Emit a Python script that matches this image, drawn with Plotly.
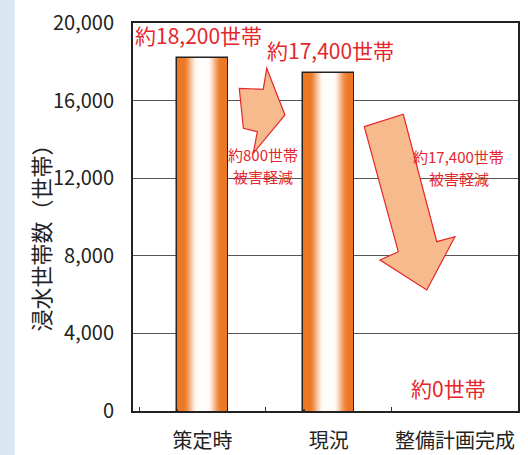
import plotly.graph_objects as go
import numpy as np

# Households affected by inundation at each stage
categories = ["策定時", "現況", "整備計画完成"]
households = [18200, 17400, 0]
value_labels = ["約18,200世帯", "約17,400世帯", "約0世帯"]
label_shift_x = [-4, 2, -6]

y_ticks = [0, 4000, 8000, 12000, 16000, 20000]

# Reduction notes: (first line, second line)
reduction_notes = [("約800世帯", "被害軽減"), ("約17,400世帯", "被害軽減")]

RED = "#E5262B"
ORANGE = np.array([236, 120, 38])
WHITE = np.array([255, 253, 250])
ARROW_FILL = "#F6BA8C"
FONT = "Noto Sans CJK JP"

fig = go.Figure()

# Cylinder-like bars: stacked overlay bars of shrinking width fading to white
n_layers = 24
full_w = 0.4
outline_w = [1.5 if v > 0 else 0 for v in households]
for k in range(n_layers):
    d = k / n_layers  # 0 at edge, ->1 at centre
    t = np.clip((d - 0.2) / 0.6, 0, 1)
    t = t * t * (3 - 2 * t)
    c = ORANGE * (1 - t) + WHITE * t
    color = "rgb(%d,%d,%d)" % tuple(c.round().astype(int))
    fig.add_trace(go.Bar(
        x=categories, y=households,
        width=[full_w * (1 - d)] * len(categories),
        marker=dict(color=color,
                    line=dict(color="#222" if k == 0 else color,
                              width=outline_w if k == 0 else 0)),
        hoverinfo="skip", showlegend=False,
    ))

# Value labels above each bar
for i, (cat, v, lab) in enumerate(zip(categories, households, value_labels)):
    fig.add_annotation(x=cat, y=v, text=lab, showarrow=False,
                       yanchor="bottom", yshift=6, xshift=label_shift_x[i],
                       font=dict(family=FONT, size=21, color=RED))

# Block arrows (x in category-index units, y in data units)
small_arrow = [(0.542, 17665), (0.684, 15258), (0.437, 13283), (0.469, 14397),
               (0.360, 14572), (0.328, 16634), (0.515, 16582)]
big_arrow = [(1.302, 14655), (1.606, 15294), (1.867, 8727), (2.009, 8985),
             (1.789, 6237), (1.425, 7783), (1.567, 8211)]


def to_path(pts):
    segs = []
    for j, (xi, yv) in enumerate(pts):
        xp = (xi + 0.5) / len(categories)
        segs.append(("M" if j == 0 else "L") + f"{xp:.4f},{yv:.1f}")
    return " ".join(segs) + " Z"


for pts in (small_arrow, big_arrow):
    fig.add_shape(type="path", path=to_path(pts), xref="paper", yref="y",
                  fillcolor=ARROW_FILL, line=dict(color=RED, width=1.2),
                  layer="above")

# Two-line notes next to the arrows
note_pos = [(0.5, 12650, -3), (1.5, 12550, 67)]
for (line1, line2), (nx, ny, dx) in zip(reduction_notes, note_pos):
    fig.add_annotation(x=nx, y=ny, xref="x", yref="y", text=line1,
                       showarrow=False, xshift=dx, yshift=11,
                       font=dict(family=FONT, size=15, color=RED))
    fig.add_annotation(x=nx, y=ny, xref="x", yref="y", text=line2,
                       showarrow=False, xshift=dx, yshift=-11,
                       font=dict(family=FONT, size=15, color=RED))

# Vertical axis title
fig.add_annotation(x=-0.244, y=0.46, xref="paper", yref="paper",
                   xanchor="center", yanchor="middle",
                   text="浸水世帯数（世帯）", textangle=-90, showarrow=False,
                   font=dict(family=FONT, size=22, color="#222"))

# Light blue strip along the left edge
fig.add_shape(type="rect", xref="paper", yref="paper",
              x0=-0.36, x1=-0.307, y0=-0.2, y1=1.2,
              fillcolor="#D9E7F3", line=dict(width=0), layer="below")

fig.update_layout(
    width=528, height=455, autosize=False,
    margin=dict(l=133, r=10, t=23, b=44, autoexpand=False),
    paper_bgcolor="white", plot_bgcolor="white",
    barmode="overlay", bargap=0,
    font=dict(family=FONT, color="#222"),
)
fig.update_xaxes(
    showline=True, mirror=True, linecolor="#222", linewidth=2,
    ticks="inside", ticklen=4, tickcolor="#333", tickson="boundaries",
    tickfont=dict(family=FONT, size=20, color="#222"), tickangle=0,
    ticklabelstandoff=11, showgrid=False, automargin=False,
)
fig.update_yaxes(
    range=[0, 20000], tickvals=y_ticks, tickformat=",",
    showline=True, mirror=True, linecolor="#222", linewidth=2,
    showgrid=True, gridcolor="#555", gridwidth=1, zeroline=False,
    tickfont=dict(family=FONT, size=20, color="#222"),
    ticks="", ticklabelstandoff=13, automargin=False,
)

fig.write_html("out.html")
